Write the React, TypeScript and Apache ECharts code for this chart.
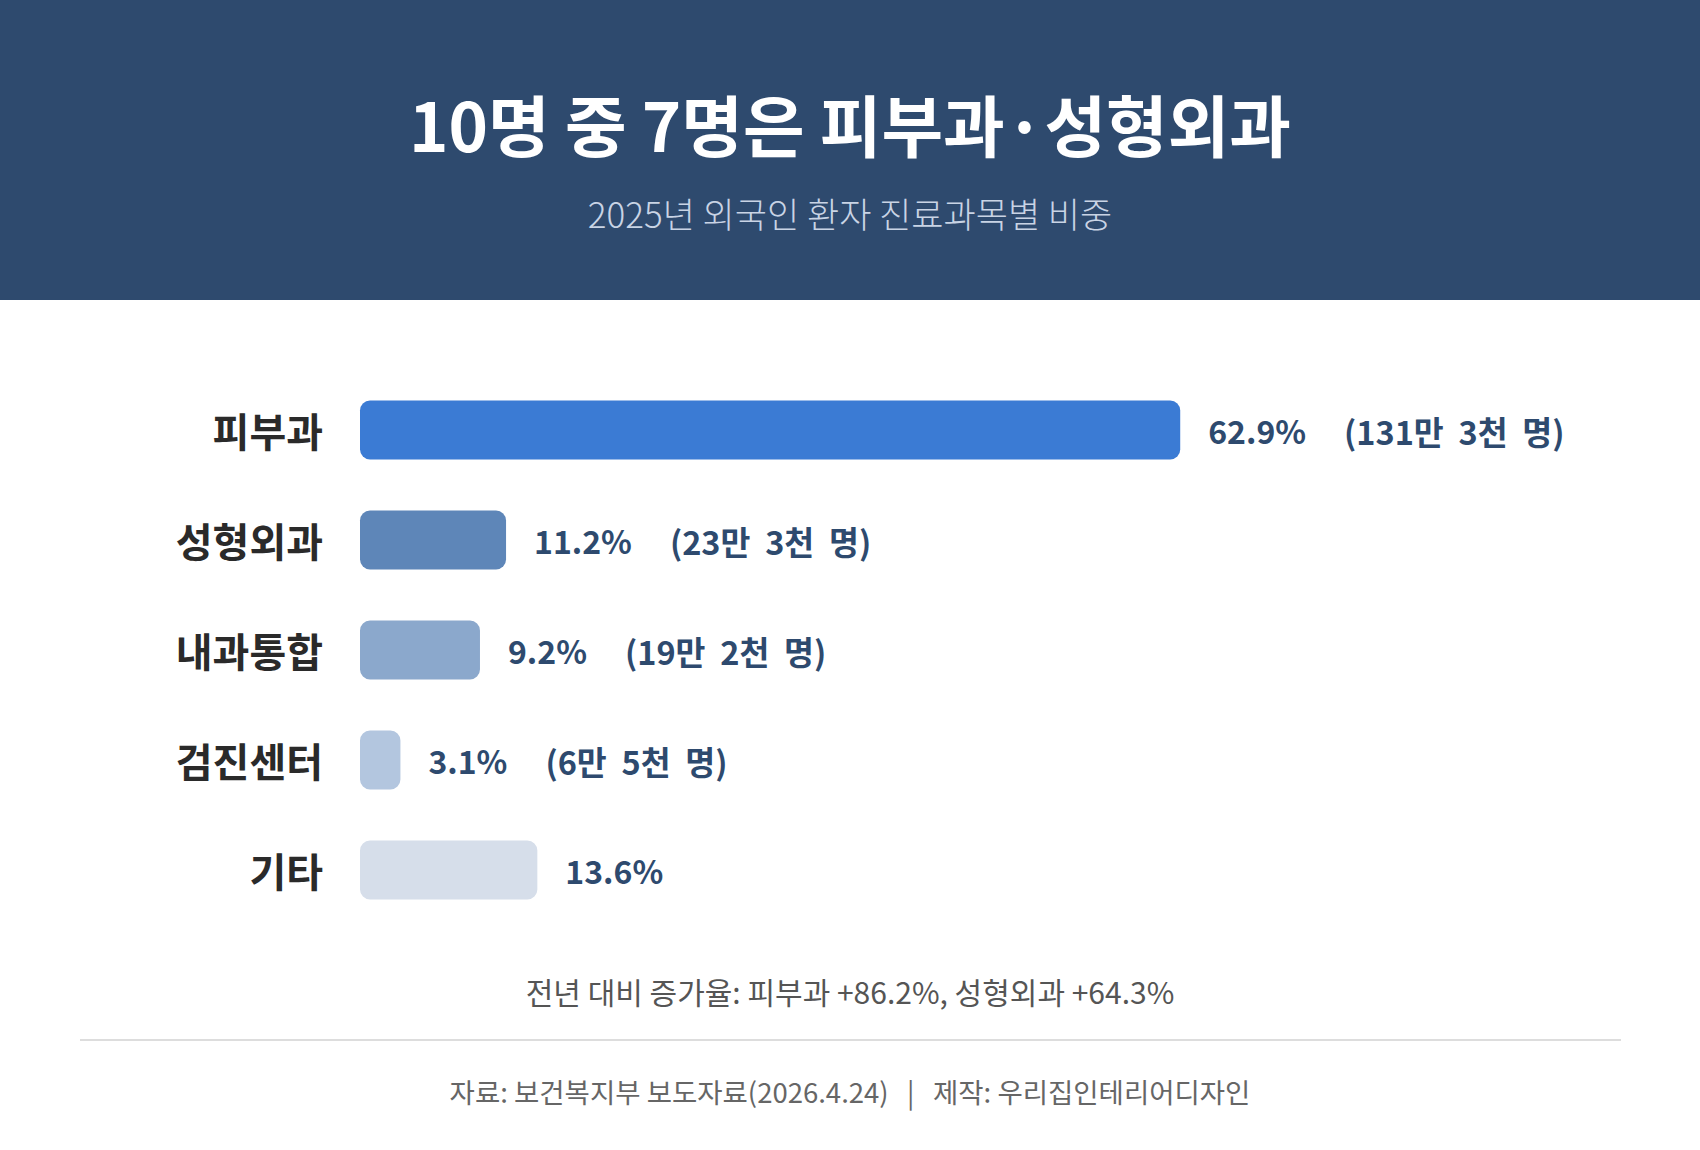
import React, { useEffect, useRef } from "react";
import * as echarts from "echarts";

const categories = ["피부과", "성형외과", "내과통합", "검진센터", "기타"];
const shares = [62.9, 11.2, 9.2, 3.1, 13.6];
const patientCounts = ["131만 3천 명", "23만 3천 명", "19만 2천 명", "6만 5천 명", ""];
const titleText = "10명 중 7명은 피부과·성형외과";
const subtitleText = "2025년 외국인 환자 진료과목별 비중";
const noteText = "전년 대비 증가율: 피부과 +86.2%, 성형외과 +64.3%";
const sourceText = "자료: 보건복지부 보도자료(2026.4.24)   |   제작: 우리집인테리어디자인";

const barColors = ["#3B7BD4", "#5E86B8", "#8BA8CC", "#B3C6DF", "#D6DEEA"];
const FONT = "'Noto Sans CJK KR', 'Noto Sans', sans-serif";

export default function App() {
  const ref = useRef<HTMLDivElement>(null);
  useEffect(() => {
    if (!ref.current) return;
    const chart = echarts.init(ref.current, undefined, { renderer: "svg" });
    chart.setOption({
      animation: false,
      backgroundColor: "#ffffff",
      textStyle: { fontFamily: FONT },
      grid: { left: 360, right: 36, top: 375, height: 550 },
      xAxis: {
        type: "value",
        min: 0,
        max: 100,
        show: false,
      },
      yAxis: {
        type: "category",
        data: categories,
        inverse: true,
        axisLine: { show: false },
        axisTick: { show: false },
        splitLine: { show: false },
        axisLabel: {
          margin: 37,
          fontSize: 40,
          fontWeight: "bold",
          color: "#2A2A2A",
          fontFamily: FONT,
        },
      },
      series: [
        {
          type: "bar",
          barWidth: 59,
          data: shares.map((v, i) => ({
            value: v,
            itemStyle: { color: barColors[i], borderRadius: 10 },
          })),
          label: {
            show: true,
            position: "right",
            distance: 28,
            fontFamily: FONT,
            formatter: (p: any) => {
              const pc = patientCounts[p.dataIndex].split(" ").join("  ");
              const pct = `{p|${p.value.toFixed(1)}%}`;
              return pc ? `${pct}{c|(${pc})}` : pct;
            },
            rich: {
              p: { fontSize: 32, fontWeight: "bold", color: "#2E4A6E", fontFamily: FONT },
              c: {
                fontSize: 32.5,
                fontWeight: "bold",
                color: "#2E4A6E",
                fontFamily: FONT,
                padding: [0, 0, 0, 38],
              },
            },
          },
        },
      ],
      graphic: [
        {
          type: "rect",
          shape: { x: 0, y: 0, width: 1700, height: 300 },
          style: { fill: "#2E4A6E" },
          z: -1,
        },
        {
          type: "text",
          x: 850,
          y: 122,
          style: {
            text: titleText,
            fill: "#FFFFFF",
            fontSize: 67,
            fontWeight: "bold",
            fontFamily: FONT,
            align: "center",
            verticalAlign: "middle",
          },
        },
        {
          type: "text",
          x: 850,
          y: 212,
          style: {
            text: subtitleText,
            fill: "#C9D4E5",
            fontSize: 35,
            fontWeight: 300,
            fontFamily: FONT,
            align: "center",
            verticalAlign: "middle",
          },
        },
        {
          type: "text",
          x: 850,
          y: 991,
          style: {
            text: noteText,
            fill: "#555555",
            fontSize: 30,
            fontFamily: FONT,
            align: "center",
            verticalAlign: "middle",
          },
        },
        {
          type: "line",
          shape: { x1: 80, y1: 1040, x2: 1621, y2: 1040 },
          style: { stroke: "#DDDDDD", lineWidth: 2 },
        },
        {
          type: "text",
          x: 850,
          y: 1091,
          style: {
            text: sourceText,
            fill: "#666666",
            fontSize: 27.5,
            fontFamily: FONT,
            align: "center",
            verticalAlign: "middle",
          },
        },
      ],
    });
    return () => chart.dispose();
  }, []);
  return (
    <div
      ref={ref}
      style={{ position: "absolute", left: 0, top: 0, width: 1700, height: 1150 }}
    />
  );
}
